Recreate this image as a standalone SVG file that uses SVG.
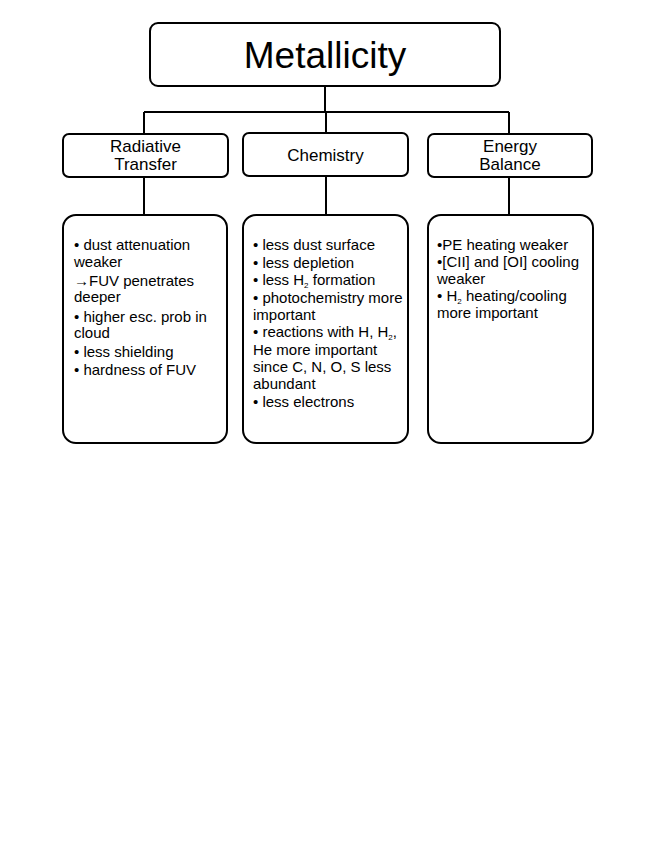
<svg xmlns="http://www.w3.org/2000/svg" width="664" height="860" viewBox="0 0 664 860">
<style>
  .box { fill: #ffffff; stroke: #000000; stroke-width: 2; }
  .line { fill: none; stroke: #000000; stroke-width: 2; }
  text { font-family: "Liberation Sans", Arial, sans-serif; fill: #000000; }
  .title { font-size: 37px; text-anchor: middle; }
  .head { font-size: 17px; text-anchor: middle; }
  .body { font-size: 15px; }
  .sub { font-size: 8px; }
</style>
<rect x="0" y="0" width="664" height="860" fill="#ffffff"/>
<g id="connectors">
  <path class="line" d="M325 86 V112 M144 112 H509 M144 112 V134 M326 112 V133 M509 112 V134"/>
  <path class="line" d="M144 177 V215 M326 176 V215 M509 177 V215"/>
</g>
<g id="metallicity">
  <rect class="box" x="150" y="23" width="350" height="63" rx="8"/>
  <text class="title" x="325" y="68">Metallicity</text>
</g>
<g id="radiative-transfer">
  <rect class="box" x="63" y="134" width="165" height="43" rx="6"/>
  <text class="head" x="145.5" y="152">Radiative</text>
  <text class="head" x="145.5" y="170">Transfer</text>
</g>
<g id="chemistry">
  <rect class="box" x="243" y="133" width="165" height="43" rx="6"/>
  <text class="head" x="325.5" y="161">Chemistry</text>
</g>
<g id="energy-balance">
  <rect class="box" x="428" y="134" width="164" height="43" rx="6"/>
  <text class="head" x="510" y="152">Energy</text>
  <text class="head" x="510" y="170">Balance</text>
</g>
<g id="radiative-details">
  <rect class="box" x="63" y="215" width="164" height="228" rx="13"/>
  <text class="body" x="74" y="250">• dust attenuation</text>
  <text class="body" x="74" y="267">weaker</text>
  <text class="body" x="74" y="286">→FUV penetrates</text>
  <text class="body" x="74" y="302">deeper</text>
  <text class="body" x="74" y="322">• higher esc. prob in</text>
  <text class="body" x="74" y="338">cloud</text>
  <text class="body" x="74" y="357">• less shielding</text>
  <text class="body" x="74" y="375">• hardness of FUV</text>
</g>
<g id="chemistry-details">
  <rect class="box" x="243" y="215" width="165" height="228" rx="13"/>
  <text class="body" x="253" y="250">• less dust surface</text>
  <text class="body" x="253" y="267.5">• less depletion</text>
  <text class="body" x="253" y="285">• less H<tspan class="sub" dy="2.5">2</tspan><tspan dy="-2.5"> formation</tspan></text>
  <text class="body" x="253" y="302.5">• photochemistry more</text>
  <text class="body" x="253" y="319.5">important</text>
  <text class="body" x="253" y="337">• reactions with H, H<tspan class="sub" dy="2.5">2</tspan><tspan dy="-2.5">,</tspan></text>
  <text class="body" x="253" y="354.5">He more important</text>
  <text class="body" x="253" y="372">since C, N, O, S less</text>
  <text class="body" x="253" y="389">abundant</text>
  <text class="body" x="253" y="406.5">• less electrons</text>
</g>
<g id="energy-details">
  <rect class="box" x="428" y="215" width="165" height="228" rx="13"/>
  <text class="body" x="437" y="250">•PE heating weaker</text>
  <text class="body" x="437" y="267">•[CII] and [OI] cooling</text>
  <text class="body" x="437" y="284">weaker</text>
  <text class="body" x="437" y="301">• H<tspan class="sub" dy="2.5">2</tspan><tspan dy="-2.5"> heating/cooling</tspan></text>
  <text class="body" x="437" y="318">more important</text>
</g>
</svg>
